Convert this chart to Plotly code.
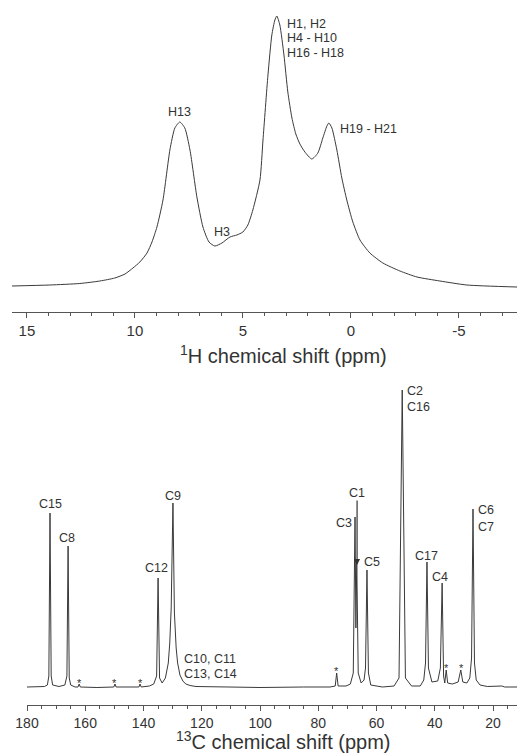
import plotly.graph_objects as go

# ---------------- data ----------------
# 1H spectrum (ppm, intensity)
h_ppm = [15.69, 13.94, 12.55, 11.62, 10.93, 10.46, 10.09, 9.77, 9.44, 9.21, 8.98, 8.70, 8.38,
         8.15, 7.92, 7.69, 7.45, 7.13, 6.85, 6.57, 6.30, 5.97, 5.60, 5.28, 5.00, 4.77, 4.54,
         4.21, 4.07, 3.84, 3.66, 3.52, 3.43, 3.29, 3.10, 2.92, 2.73, 2.55, 2.36, 2.13, 1.81,
         1.53, 1.30, 1.11, 1.02, 0.88, 0.65, 0.42, 0.19, -0.09, -0.42, -0.88, -1.48, -2.27,
         -3.06, -4.12, -5.37, -7.69]
h_int = [2, 3, 4.5, 7, 10, 14, 20, 26, 35, 46, 61, 88, 138,
         160, 166, 160, 138, 91, 61, 46, 42, 45, 51, 53, 56, 63, 78,
         108, 148, 213, 253, 268, 272, 263, 233, 196, 170, 154, 144, 136, 129,
         135, 150, 162, 165, 160, 138, 110, 88, 66, 48, 35, 25, 17,
         11, 7, 3, 1]

# 13C spectrum (ppm, intensity)
c_ppm = [180.0, 176.0, 174.0, 173.0, 172.5, 172.1, 171.7, 171.2, 169.0, 167.0, 166.3, 165.9,
         165.5, 165.0, 163.5, 162.5, 162.1, 161.7, 156.0, 150.2, 149.8, 149.4, 145.0, 141.6,
         141.2, 140.8, 138.0, 136.5, 135.5, 135.0, 134.5, 133.6, 132.5, 131.5, 131.0, 130.5,
         129.9, 129.4, 128.8, 128.3, 127.5, 126.5, 125.5, 124.0, 122.0, 115.0, 100.0, 85.0,
         76.0, 74.2, 73.7, 73.2, 70.5, 69.0, 68.0, 67.4, 67.1, 66.8, 66.3, 65.3, 64.3, 63.8,
         63.3, 62.8, 62.0, 58.0, 54.0, 52.3, 51.2, 50.1, 48.0, 45.0, 43.8, 43.2, 42.7, 42.2,
         41.0, 39.0, 38.1, 37.5, 37.0, 36.6, 36.1, 35.6, 34.0, 32.0, 31.1, 30.4, 29.0, 28.0,
         27.4, 26.9, 26.4, 25.8, 24.5, 22.0, 17.0, 16.0, 11.8]
c_int = [1, 1, 1.5, 3, 12, 175, 12, 3, 1.5, 3, 12, 142,
         10, 3, 1, 1, 4, 1, 0.5, 1, 4, 1, 1, 1,
         4, 1, 2, 4, 12, 110, 10, 5, 10, 25, 45, 80,
         185, 75, 40, 25, 13, 7, 4, 2.5, 1.5, 1, 0.5, 1,
         1, 2, 15, 2, 2, 4, 15, 171, 60, 125, 15, 5, 8, 20,
         118, 15, 3, 1, 2, 10, 298, 10, 2, 2, 8, 25, 126, 20,
         6, 7, 20, 105, 12, 5, 18, 5, 4, 6, 18, 6, 5, 10,
         30, 179, 25, 8, 3, 1.5, 2, 1, 1]

h_tick_vals = [15, 10, 5, 0, -5]
h_tick_text = ["15", "10", "5", "0", "-5"]
c_tick_vals = [180, 160, 140, 120, 100, 80, 60, 40, 20]
c_tick_text = ["180", "160", "140", "120", "100", "80", "60", "40", "20"]

# peak labels: (text, ppm, intensity, anchor)
h_labels = [
    ("H13", 7.92, 176, "center"),
    ("H3", 5.97, 56, "center"),
    ("H1, H2", 3.06, 264, "left"),
    ("H4 - H10", 3.06, 250, "left"),
    ("H16 - H18", 3.06, 235, "left"),
    ("H19 - H21", 0.60, 159, "left"),
]
c_labels = [
    ("C15", 172.1, 184, "center"),
    ("C8", 166.3, 150, "center"),
    ("C12", 135.7, 120, "center"),
    ("C9", 129.9, 192, "center"),
    ("C10, C11", 126.8, 29, "left"),
    ("C13, C14", 126.8, 14, "left"),
    ("C3", 71.2, 165, "center"),
    ("C1", 66.7, 195, "center"),
    ("C5", 61.5, 126, "center"),
    ("C2", 50.2, 297, "left"),
    ("C16", 50.2, 281, "left"),
    ("C17", 42.7, 132, "center"),
    ("C4", 38.2, 111, "center"),
    ("C6", 25.8, 178, "left"),
    ("C7", 25.8, 161, "left"),
]
star_ppm = [162.1, 149.8, 141.2, 73.6, 36.1, 31.0]
star_int = [5, 5, 5, 17, 20, 20]

# ---------------- figure ----------------
W, H = 517, 756
FONT = "Liberation Sans, Arial, Helvetica, sans-serif"
LINE = "#3a3a3a"
AXC = "#555555"
TXT = "#333333"

fig = go.Figure()
fig.add_trace(go.Scatter(x=h_ppm, y=h_int, mode="lines", xaxis="x", yaxis="y",
                         line=dict(color=LINE, width=1, shape="spline", smoothing=0.6),
                         hoverinfo="skip", showlegend=False))
fig.add_trace(go.Scatter(x=c_ppm, y=c_int, mode="lines", xaxis="x2", yaxis="y2",
                         line=dict(color=LINE, width=1), hoverinfo="skip", showlegend=False))

def xax(domain, rng, tv, tt, minor_dtick, fsize, anchor):
    return dict(domain=domain, range=rng, anchor=anchor, automargin=False,
                showline=True, linecolor=AXC, linewidth=1,
                ticks="outside", ticklen=5, tickwidth=1, tickcolor=AXC,
                tickmode="array", tickvals=tv, ticktext=tt,
                tickfont=dict(family=FONT, size=fsize, color=TXT),
                showgrid=False, zeroline=False, fixedrange=True,
                minor=dict(tickmode="linear", tick0=0, dtick=minor_dtick, ticks="outside",
                           ticklen=3, tickwidth=1, tickcolor=AXC, showgrid=False))

def yax(domain, rng, anchor):
    return dict(domain=domain, range=rng, anchor=anchor, automargin=False, visible=False,
                showgrid=False, zeroline=False, fixedrange=True)

fig.update_layout(
    template="none",
    width=W, height=H, autosize=False,
    margin=dict(l=0, r=0, t=0, b=0, pad=0),
    paper_bgcolor="white", plot_bgcolor="white",
    xaxis=xax([12 / W, 1], [15.69, -7.69], h_tick_vals, h_tick_text, 1, 15, "y"),
    yaxis=yax([1 - 312 / H, 1], [-24, 288], "x"),
    xaxis2=xax([27 / W, 1], [180, 11.8], c_tick_vals, c_tick_text, 5, 14, "y2"),
    yaxis2=yax([1 - 705 / H, 1 - 385 / H], [-17, 303], "x2"),
)

ann = []
for t, p, i, a in h_labels:
    ann.append(dict(text=t, x=p, y=i, xref="x", yref="y", xanchor=a, yanchor="middle",
                    showarrow=False, font=dict(family=FONT, size=12.5, color=TXT)))
for t, p, i, a in c_labels:
    ann.append(dict(text=t, x=p, y=i, xref="x2", yref="y2", xanchor=a, yanchor="middle",
                    showarrow=False, font=dict(family=FONT, size=12.5, color=TXT)))
for p, i in zip(star_ppm, star_int):
    ann.append(dict(text="*", x=p, y=i, xref="x2", yref="y2", xanchor="center",
                    yanchor="middle", showarrow=False,
                    font=dict(family=FONT, size=11, color=TXT)))
# arrow from the C1 label to its shoulder
ann.append(dict(text="", x=66.7, y=123, ax=66.7, ay=189, xref="x2", yref="y2",
                axref="x2", ayref="y2", showarrow=True, arrowhead=2, arrowsize=1,
                arrowwidth=1.2, arrowcolor="#333333"))
# axis titles
ann.append(dict(text="<sup>1</sup>H chemical shift (ppm)", x=283 / W, y=1 - 354 / H,
                xref="paper", yref="paper", xanchor="center", yanchor="middle",
                showarrow=False, font=dict(family=FONT, size=20, color=TXT)))
ann.append(dict(text="<sup>13</sup>C chemical shift (ppm)", x=283 / W, y=1 - 740 / H,
                xref="paper", yref="paper", xanchor="center", yanchor="middle",
                showarrow=False, font=dict(family=FONT, size=20, color=TXT)))
fig.update_layout(annotations=ann)

fig.write_html("out.html", config={"displayModeBar": False, "staticPlot": True},
               post_script="document.body.style.margin='0';document.body.style.overflow='hidden';")
